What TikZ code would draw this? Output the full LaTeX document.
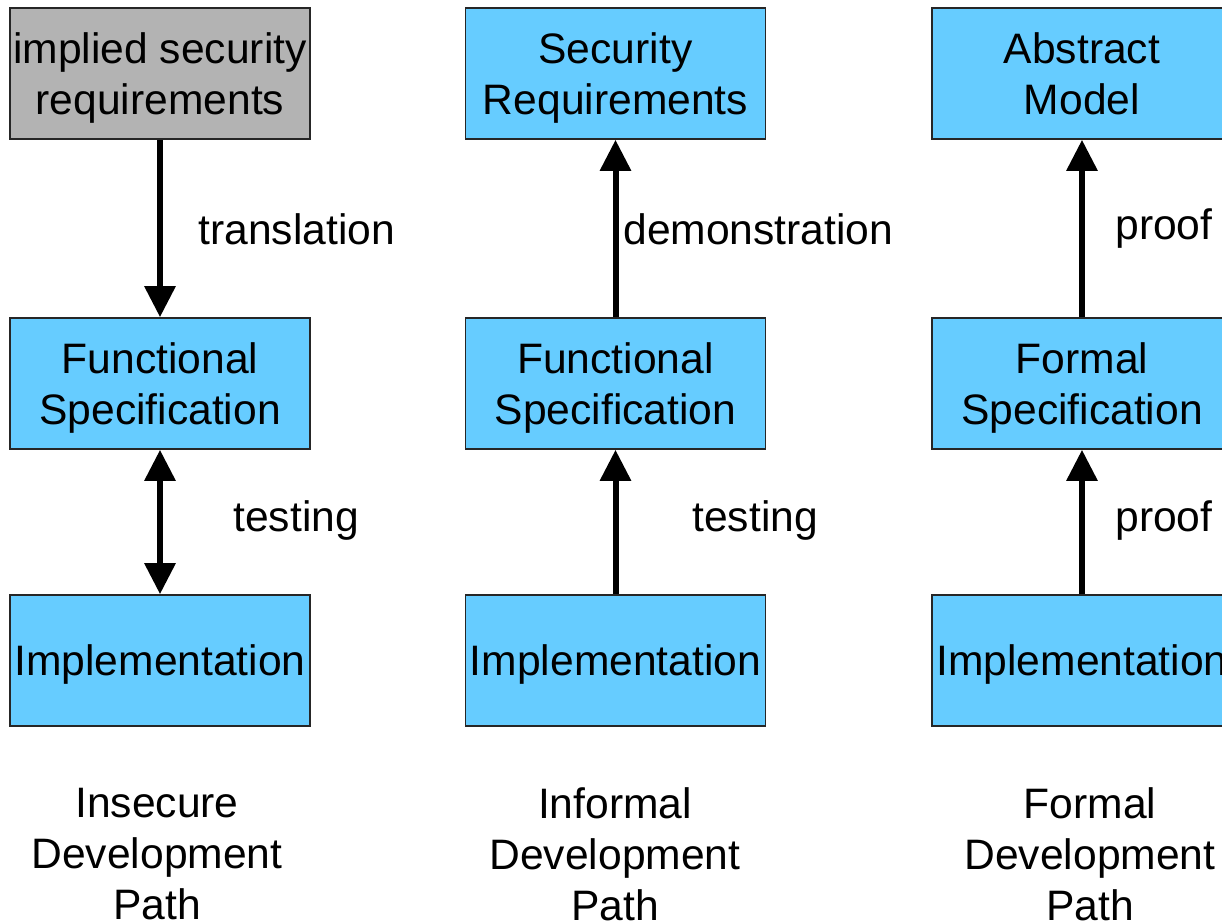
\documentclass[tikz,border=0pt]{standalone}
\usepackage{fontspec}
\setmainfont{Liberation Sans}
\usetikzlibrary{arrows.meta,positioning}
\definecolor{boxblue}{HTML}{66CCFF}
\definecolor{boxgray}{HTML}{B3B3B3}

\begin{document}
\begin{tikzpicture}[x=0.5pt, y=-0.5pt]
\useasboundingbox (0,0) rectangle (1222,922);
\clip (0,0) rectangle (1222,922);
\tikzstyle{every node} = [font=\fontsize{21.3}{25.6}\selectfont, align=center, inner sep=0pt]
\tikzstyle{box} = [draw=black!85, line width=0.8pt, fill=boxblue, minimum width=150pt, minimum height=65.5pt, text depth=-1.5pt]
\tikzstyle{link} = [line width=3pt, -{Triangle[length=15.5pt, width=15pt]}]
% insecure path
\node[box, fill=boxgray] (isr) at (160,73.5) {implied security\\requirements};
\node[box] (fs1) at (160,383.5) {Functional\\Specification};
\node[box] (im1) at (160,660.5) {Implementation};
% informal path
\node[box] (sr) at (615.5,73.5) {Security\\Requirements};
\node[box] (fs2) at (615.5,383.5) {Functional\\Specification};
\node[box] (im2) at (615.5,660.5) {Implementation};
% formal path
\node[box] (am) at (1082,73.5) {Abstract\\Model};
\node[box] (fs3) at (1082,383.5) {Formal\\Specification};
\node[box] (im3) at (1082,660.5) {Implementation};

\draw[link] (isr) -- (fs1);
\draw[link, {Triangle[length=15.5pt, width=15pt]}-{Triangle[length=15.5pt, width=15pt]}] (fs1) -- (im1);
\draw[link] (fs2) -- (sr);
\draw[link] (im2) -- (fs2);
\draw[link] (fs3) -- (am);
\draw[link] (im3) -- (fs3);

\node[anchor=west] (l1) at (198,229) {translation};
\node[anchor=west] (l2) at (233,520) {testing};
\node[anchor=west] (l3) at (623,229) {demonstration};
\node[anchor=west] (l4) at (692,520) {testing};
\node[anchor=west] (l5) at (1115,229) {proof};
\node[anchor=west] (l6) at (1115,520) {proof};

\node (c1) at (157,854) {Insecure\\Development\\Path};
\node (c2) at (615,854) {Informal\\Development\\Path};
\node (c3) at (1090,854) {Formal\\Development\\Path};
\end{tikzpicture}
\end{document}
